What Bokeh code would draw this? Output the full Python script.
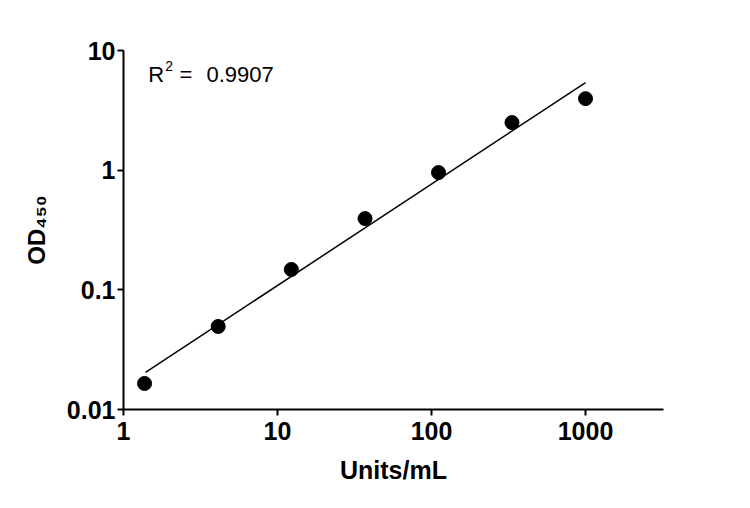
import math
from bokeh.plotting import figure
from bokeh.models import Range1d, FixedTicker, Label
from bokeh.embed import file_html
from bokeh.resources import INLINE

# standard curve, 3-fold dilutions
units = [1.37, 4.12, 12.3, 37.0, 111, 333, 1000]
od450 = [0.0165, 0.0494, 0.148, 0.394, 0.955, 2.50, 3.96]

# fitted line end points
fit_x = [1.39, 1000]
fit_y = [0.0204, 5.39]

x_ticks = [1, 10, 100, 1000]
x_labels = ["1", "10", "100", "1000"]
y_ticks = [0.01, 0.1, 1, 10]
y_labels = ["0.01", "0.1", "1", "10"]

FONT = "Liberation Sans"

p = figure(x_axis_type="log", y_axis_type="log",
           x_range=Range1d(1, 3208), y_range=Range1d(0.01, 10),
           frame_width=540, frame_height=359,
           min_border_left=123, min_border_right=79,
           min_border_top=50, min_border_bottom=91,
           output_backend="svg", toolbar_location=None)
p.outline_line_color = None
p.grid.grid_line_color = None
p.background_fill_color = "white"

p.line(fit_x, fit_y, line_color="black", line_width=1.5)
p.scatter(units, od450, size=14, color="black")

for ax, ticks, labels in [(p.xaxis[0], x_ticks, x_labels), (p.yaxis[0], y_ticks, y_labels)]:
    ax.ticker = FixedTicker(ticks=ticks)
    ax.major_label_overrides = dict(zip(ticks, labels))
    ax.minor_tick_line_color = None
    ax.axis_line_width = 2
    ax.major_tick_line_width = 2
    ax.major_tick_in = 0
    ax.major_tick_out = 6
    ax.major_label_text_font = FONT
    ax.major_label_text_font_style = "bold"
    ax.major_label_text_font_size = "25px"
    ax.major_label_text_color = "black"
    ax.axis_label_text_font = FONT
    ax.axis_label_text_font_style = "bold"
    ax.axis_label_text_color = "black"

p.xaxis.major_label_standoff = 6
p.yaxis.major_label_standoff = 2

p.xaxis.axis_label = "Units/mL"
p.xaxis.axis_label_text_font_size = "25px"
p.xaxis.axis_label_standoff = 13

p.yaxis.axis_label = "OD₄₅₀"
p.yaxis.axis_label_text_font_size = "24px"
p.yaxis.axis_label_standoff = 14

# R^2 annotation
p.add_layout(Label(x=1.45, y=6.3, text="R", text_font=FONT, text_font_size="22px",
                   text_color="black", text_baseline="alphabetic"))
p.add_layout(Label(x=1.87, y=7.45, text="2", text_font=FONT, text_font_size="14px",
                   text_color="black", text_baseline="alphabetic"))
p.add_layout(Label(x=2.31, y=6.3, text="=", text_font=FONT, text_font_size="22px",
                   text_color="black", text_baseline="alphabetic"))
p.add_layout(Label(x=3.46, y=6.3, text="0.9907", text_font=FONT, text_font_size="22px",
                   text_color="black", text_baseline="alphabetic"))

open("out.html", "w").write(file_html(p, INLINE))
